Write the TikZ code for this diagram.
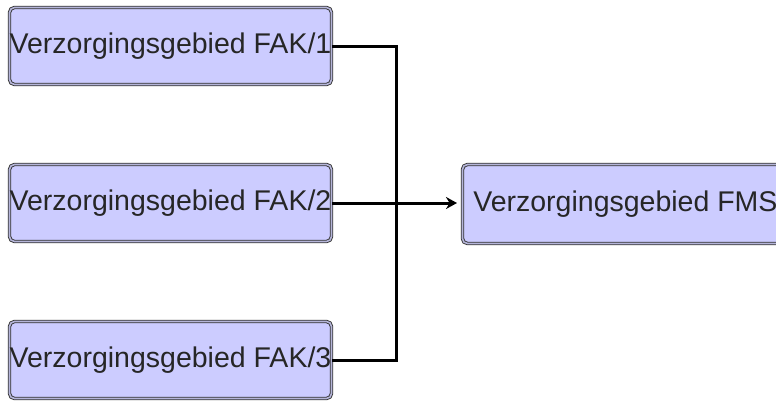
\documentclass[tikz,border=0pt]{standalone}
\usepackage{fontspec}
\setmainfont{Liberation Sans}
\usetikzlibrary{arrows.meta}
\definecolor{boxfill}{HTML}{CCCCFF}
\definecolor{boxline}{HTML}{333333}
\tikzset{
  area/.style={rectangle, rounded corners=5pt, fill=boxfill, draw=boxline, line width=0.9pt,
    double=boxfill!70!gray, double distance=1.6pt, minimum width=322pt, minimum height=77pt,
    inner sep=0pt, font=\fontsize{28.5}{30}\selectfont, text=black!85},
  link/.style={line width=3pt, black}
}
\begin{document}
\begin{tikzpicture}[x=1pt,y=-1pt]
\useasboundingbox (0,0) rectangle (776,402);
\clip (0,0) rectangle (776,402);
\node[area] (b1) at (170.5,46) {Verzorgingsgebied FAK/1};
\node[area] (b2) at (170.5,203) {Verzorgingsgebied FAK/2};
\node[area] (b3) at (170.5,360) {Verzorgingsgebied FAK/3};
\node[area, minimum width=330pt, minimum height=79pt, anchor=west] (f) at (462,204) {\hspace*{-4pt}Verzorgingsgebied FMS};
\coordinate (j) at (396,203);
\coordinate (tip) at (457,203);
\draw[link] (b1.east) -| (j);
\draw[link] (b3.east) -| (j);
\draw[link, -{Stealth[length=11pt,width=12pt]}] (b2.east) -- (tip);
\end{tikzpicture}
\end{document}
